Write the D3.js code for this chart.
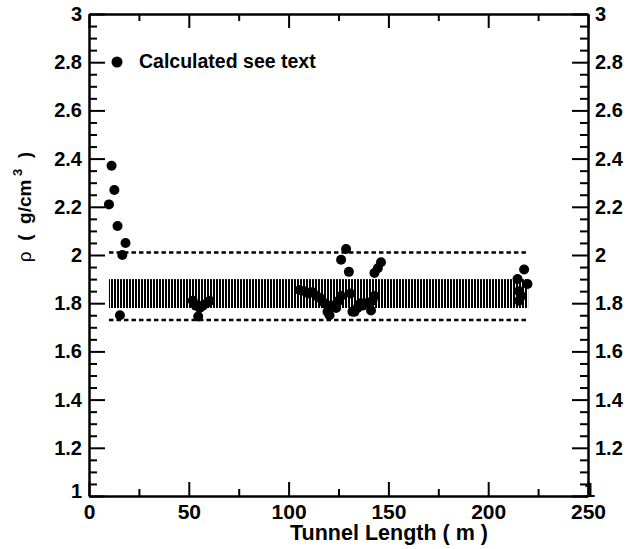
<!DOCTYPE html>
<html>
<head>
<meta charset="utf-8">
<script src="https://cdn.jsdelivr.net/npm/d3@7"></script>
<style>
  body { margin: 0; background: #fff; }
  svg { display: block; font-family: "Liberation Sans", Arial, sans-serif; }
  .axis path, .axis line { stroke: #000; }
  .axis text { font-weight: bold; fill: #000; }
</style>
</head>
<body>
<div id="chart-container"></div>
<script>
// tunnel position (m) and calculated density (g/cm3)
const tunnelLength = [
  10, 11.3, 12.7, 14.3, 18.3, 16.7, 15.5,
  52, 53.5, 54.7, 55.5, 57, 59, 60.5,
  105.5, 108, 110, 112, 114, 116, 118, 119.5, 120.5, 121.5, 123.8, 125, 126.3,
  128.8, 126.3, 130.2, 131, 132, 133, 134.5, 136, 137, 139, 141.3, 142, 143,
  143, 144.7, 146.3,
  214.7, 215.5, 215.5, 216.5, 218, 219.7
];
const density = [
  2.21, 2.37, 2.27, 2.12, 2.05, 2.0, 1.75,
  1.81, 1.79, 1.745, 1.78, 1.79, 1.80, 1.81,
  1.855, 1.85, 1.84, 1.845, 1.83, 1.82, 1.80, 1.765, 1.75, 1.79, 1.78, 1.81, 1.83,
  2.025, 1.98, 1.93, 1.84, 1.765, 1.765, 1.78, 1.80, 1.79, 1.80, 1.77, 1.81, 1.83,
  1.925, 1.945, 1.97,
  1.90, 1.85, 1.81, 1.83, 1.94, 1.88
];

// shaded band and dashed limits
const bandX = [10, 220];
const bandY = [1.78, 1.90];
const limitLines = [2.01, 1.73];

const xTicks = [0, 50, 100, 150, 200, 250];
const xMinorTicks = [25, 75, 125, 175, 225];
const yTicks = [1, 1.2, 1.4, 1.6, 1.8, 2, 2.2, 2.4, 2.6, 2.8, 3];
const yMinorTicks = d3.range(1, 3.001, 0.05).filter(v => Math.abs(v * 5 - Math.round(v * 5)) > 1e-6);

const legendLabel = "Calculated see text";
const xTitle = "Tunnel Length ( m )";

const W = 626, H = 549;
const margin = { left: 89, right: 588, top: 14, bottom: 496 };

const svg = d3.select("#chart-container").append("svg")
  .attr("width", W).attr("height", H);

const x = d3.scaleLinear().domain([0, 250]).range([margin.left, margin.right]);
const y = d3.scaleLinear().domain([1, 3]).range([margin.bottom, margin.top]);

// hatch pattern of vertical stripes
const defs = svg.append("defs");
const pat = defs.append("pattern")
  .attr("id", "hatch")
  .attr("patternUnits", "userSpaceOnUse")
  .attr("width", 3).attr("height", 10);
pat.append("rect").attr("width", 2).attr("height", 10).attr("fill", "#000");

svg.append("rect")
  .attr("x", x(bandX[0]))
  .attr("y", y(bandY[1]))
  .attr("width", x(bandX[1]) - x(bandX[0]))
  .attr("height", y(bandY[0]) - y(bandY[1]))
  .attr("fill", "url(#hatch)");

svg.selectAll(".limit")
  .data(limitLines)
  .enter()
  .append("line")
  .attr("class", "limit")
  .attr("x1", x(bandX[0]))
  .attr("x2", x(bandX[1]))
  .attr("y1", d => y(d))
  .attr("y2", d => y(d))
  .attr("stroke", "#000")
  .attr("stroke-width", 2.5)
  .attr("stroke-dasharray", "4.5,3");

// points
svg.selectAll(".dot")
  .data(tunnelLength.map((t, i) => ({ t, rho: density[i] })))
  .enter()
  .append("circle")
  .attr("class", "dot")
  .attr("cx", d => x(d.t))
  .attr("cy", d => y(d.rho))
  .attr("r", 5)
  .attr("fill", "#000");

// axes (ticks inward)
function styleAxis(g, size) {
  g.select(".domain").attr("stroke-width", 2.5);
  g.selectAll(".tick line").attr("stroke-width", 2);
  g.selectAll("text").style("font-size", size + "px");
}
function minor(g) {
  g.select(".domain").remove();
  g.selectAll("line").attr("stroke-width", 2);
}

const xBottom = svg.append("g").attr("class", "axis")
  .attr("transform", `translate(0,${margin.bottom})`)
  .call(d3.axisBottom(x).tickValues(xTicks).tickSize(-14).tickSizeOuter(0).tickPadding(8).tickFormat(d3.format("d")));
styleAxis(xBottom, 21);
svg.append("g").attr("class", "axis")
  .attr("transform", `translate(0,${margin.bottom})`)
  .call(d3.axisBottom(x).tickValues(xMinorTicks).tickSize(-7).tickSizeOuter(0).tickFormat(""))
  .call(minor);

const xTop = svg.append("g").attr("class", "axis")
  .attr("transform", `translate(0,${margin.top})`)
  .call(d3.axisTop(x).tickValues(xTicks).tickSize(-14).tickSizeOuter(0).tickFormat(""));
styleAxis(xTop, 21);
svg.append("g").attr("class", "axis")
  .attr("transform", `translate(0,${margin.top})`)
  .call(d3.axisTop(x).tickValues(xMinorTicks).tickSize(-7).tickSizeOuter(0).tickFormat(""))
  .call(minor);

const yLeft = svg.append("g").attr("class", "axis")
  .attr("transform", `translate(${margin.left},0)`)
  .call(d3.axisLeft(y).tickValues(yTicks).tickSize(-16).tickSizeOuter(0).tickPadding(7).tickFormat(d3.format("~g")));
styleAxis(yLeft, 20);
svg.append("g").attr("class", "axis")
  .attr("transform", `translate(${margin.left},0)`)
  .call(d3.axisLeft(y).tickValues(yMinorTicks).tickSize(-8).tickSizeOuter(0).tickFormat(""))
  .call(minor);

const yRight = svg.append("g").attr("class", "axis")
  .attr("transform", `translate(${margin.right},0)`)
  .call(d3.axisRight(y).tickValues(yTicks).tickSize(-16).tickSizeOuter(0).tickPadding(7).tickFormat(d3.format("~g")));
styleAxis(yRight, 20);
svg.append("g").attr("class", "axis")
  .attr("transform", `translate(${margin.right},0)`)
  .call(d3.axisRight(y).tickValues(yMinorTicks).tickSize(-8).tickSizeOuter(0).tickFormat(""))
  .call(minor);

// the bottom "1" labels sit a little higher, clear of the x labels
yLeft.selectAll(".tick").filter(d => d === 1).select("text").attr("y", -5);
yRight.selectAll(".tick").filter(d => d === 1).select("text").attr("y", -6).attr("x", -4);

// axis titles
svg.append("text")
  .attr("x", 389)
  .attr("y", 540)
  .attr("text-anchor", "middle")
  .style("font-size", "21.5px")
  .style("font-weight", "bold")
  .text(xTitle);

const yTitle = svg.append("text")
  .attr("transform", "translate(31,207) rotate(-90)")
  .attr("text-anchor", "middle")
  .style("white-space", "pre")
  .style("font-size", "19px");
yTitle.append("tspan").text("ρ");
yTitle.append("tspan").style("font-weight", "bold").text("  (  g/cm");
yTitle.append("tspan").style("font-weight", "bold").style("font-size", "13px").attr("dy", -9).text(" 3");
yTitle.append("tspan").style("font-weight", "bold").attr("dy", 9).text("  )");

// legend
svg.append("circle").attr("cx", 117).attr("cy", 62).attr("r", 5.5).attr("fill", "#000");
svg.append("text")
  .attr("x", 139)
  .attr("y", 68)
  .style("font-size", "19.5px")
  .style("font-weight", "bold")
  .text(legendLabel);
</script>
</body>
</html>
